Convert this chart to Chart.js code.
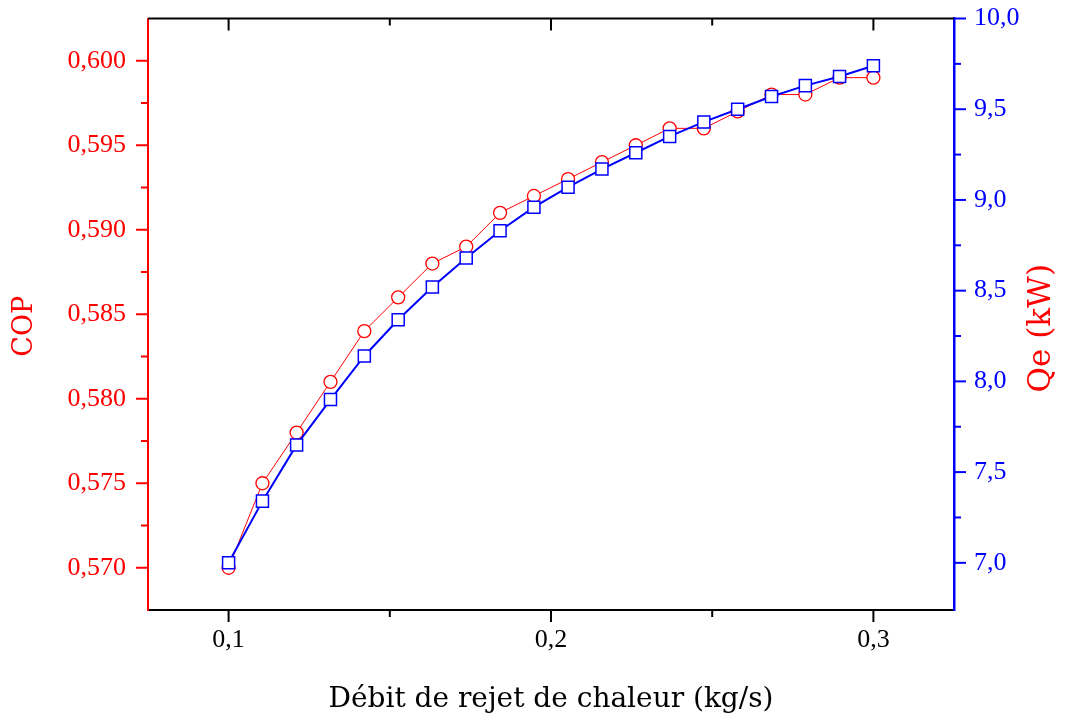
<!DOCTYPE html>
<html>
<head>
<meta charset="utf-8">
<script src="https://cdn.jsdelivr.net/npm/chart.js@4.4.1/dist/chart.umd.min.js"></script>
<style>
  html, body { margin: 0; padding: 0; background: #fff; }
  #wrap { width: 1080px; height: 725px; }
</style>
</head>
<body>
<div id="wrap"><canvas id="chart" width="1080" height="725"></canvas></div>
<script>
// Débit de rejet de chaleur (kg/s)
const debit = [0.1, 0.1105, 0.1211, 0.1316, 0.1421, 0.1526, 0.1632, 0.1737, 0.1842, 0.1947,
               0.2053, 0.2158, 0.2263, 0.2368, 0.2474, 0.2579, 0.2684, 0.2789, 0.2895, 0.3];
const cop = [0.570, 0.575, 0.578, 0.581, 0.584, 0.586, 0.588, 0.589, 0.591, 0.592,
             0.593, 0.594, 0.595, 0.596, 0.596, 0.597, 0.598, 0.598, 0.599, 0.599];
const qe = [7.00, 7.34, 7.65, 7.90, 8.14, 8.34, 8.52, 8.68, 8.83, 8.96,
            9.07, 9.17, 9.26, 9.35, 9.43, 9.50, 9.57, 9.63, 9.68, 9.74];

const debitTicks = [0.1, 0.2, 0.3];
const debitMinor = [0.15, 0.25];
const copTicks = [0.570, 0.575, 0.580, 0.585, 0.590, 0.595, 0.600];
const copMinor = [0.5725, 0.5775, 0.5825, 0.5875, 0.5925, 0.5975];
const qeTicks = [7.0, 7.5, 8.0, 8.5, 9.0, 9.5, 10.0];
const qeMinor = [7.25, 7.75, 8.25, 8.75, 9.25, 9.75];

const RED = '#ff0000';
const BLUE = '#0000ff';
const FONT = "'Liberation Serif', 'DejaVu Serif', serif";
const TITLE_FONT = "'DejaVu Serif', 'Liberation Serif', serif";
const comma = (v, dp) => v.toFixed(dp).replace('.', ',');

// ticks (major/minor), top frame and the two y titles
const frame = {
  id: 'frame',
  afterDraw(chart) {
    const { ctx, chartArea: a, scales } = chart;
    const { x, y, y1 } = scales;
    ctx.save();
    ctx.lineCap = 'butt';
    ctx.strokeStyle = '#000';
    ctx.lineWidth = 2;
    ctx.beginPath();
    ctx.moveTo(a.left, a.top);
    ctx.lineTo(a.right, a.top);
    ctx.stroke();
    const tick = (x0, y0, x1, y1c, color) => {
      ctx.strokeStyle = color;
      ctx.beginPath();
      ctx.moveTo(x0, y0);
      ctx.lineTo(x1, y1c);
      ctx.stroke();
    };
    debitTicks.forEach(v => {
      const px = x.getPixelForValue(v);
      tick(px, a.bottom, px, a.bottom + 12, '#000');
      tick(px, a.top, px, a.top + 12, '#000');
    });
    debitMinor.forEach(v => {
      const px = x.getPixelForValue(v);
      tick(px, a.bottom, px, a.bottom + 7, '#000');
      tick(px, a.top, px, a.top + 7, '#000');
    });
    copTicks.forEach(v => { const py = y.getPixelForValue(v); tick(a.left, py, a.left - 12, py, RED); });
    copMinor.forEach(v => { const py = y.getPixelForValue(v); tick(a.left, py, a.left - 7, py, RED); });
    qeTicks.forEach(v => { const py = y1.getPixelForValue(v); tick(a.right, py, a.right + 12, py, BLUE); });
    qeMinor.forEach(v => { const py = y1.getPixelForValue(v); tick(a.right, py, a.right + 7, py, BLUE); });

    // y titles, both read bottom to top
    ctx.fillStyle = RED;
    ctx.textAlign = 'center';
    ctx.textBaseline = 'middle';
    const midY = (a.top + a.bottom) / 2 + 12;
    ctx.save();
    ctx.font = '27px ' + TITLE_FONT;
    ctx.translate(25, midY);
    ctx.rotate(-Math.PI / 2);
    ctx.fillText('COP', 0, 0);
    ctx.restore();
    ctx.font = '31px ' + TITLE_FONT;
    ctx.translate(1042, midY + 2);
    ctx.rotate(-Math.PI / 2);
    ctx.fillText('Qe (kW)', 0, 0);
    ctx.restore();
  }
};

const noPad = s => { s.paddingTop = 0; s.paddingBottom = 0; };

new Chart(document.getElementById('chart'), {
  type: 'line',
  data: {
    datasets: [
      {
        label: 'Qe',
        data: debit.map((d, i) => ({ x: d, y: qe[i] })),
        yAxisID: 'y1',
        borderColor: BLUE,
        borderWidth: 2,
        pointStyle: 'rect',
        pointRadius: 8.5,
        pointBorderWidth: 1.5,
        pointBackgroundColor: '#fff',
        pointBorderColor: BLUE,
        tension: 0,
      },
      {
        label: 'COP',
        data: debit.map((d, i) => ({ x: d, y: cop[i] })),
        yAxisID: 'y',
        borderColor: RED,
        borderWidth: 1,
        pointStyle: 'circle',
        pointRadius: 6.5,
        pointBorderWidth: 1.3,
        pointBackgroundColor: '#fff',
        pointBorderColor: RED,
        tension: 0,
      },
    ],
  },
  options: {
    responsive: false,
    animation: false,
    devicePixelRatio: 1,
    layout: { padding: { top: 18.5, left: 0, right: 0, bottom: 0 } },
    plugins: { legend: { display: false }, tooltip: { enabled: false } },
    scales: {
      x: {
        type: 'linear',
        min: 0.075,
        max: 0.325,
        afterBuildTicks: s => { s.ticks = debitTicks.map(v => ({ value: v })); },
        afterFit: s => { s.height = 115; s.paddingLeft = 0; s.paddingRight = 0; },
        border: { display: true, color: '#000', width: 2 },
        grid: { display: true, drawOnChartArea: false, drawTicks: true, tickLength: 12, tickColor: 'transparent' },
        ticks: { color: '#000', font: { family: FONT, size: 26 }, padding: 3, callback: v => comma(v, 1), maxRotation: 0 },
        title: { display: true, text: 'Débit de rejet de chaleur (kg/s)', color: '#000', font: { family: TITLE_FONT, size: 28 }, padding: { bottom: 8 } },
      },
      y: {
        position: 'left',
        min: 0.5675,
        max: 0.6025,
        afterBuildTicks: s => { s.ticks = copTicks.map(v => ({ value: v })); },
        afterFit: s => { s.width = 148; noPad(s); },
        border: { display: true, color: RED, width: 2 },
        grid: { display: true, drawOnChartArea: false, drawTicks: true, tickLength: 12, tickColor: 'transparent' },
        ticks: { color: RED, font: { family: FONT, size: 26 }, padding: 10, callback: v => comma(v, 3) },
      },
      y1: {
        position: 'right',
        min: 6.74,
        max: 10.0,
        afterBuildTicks: s => { s.ticks = qeTicks.map(v => ({ value: v })); },
        afterFit: s => { s.width = 126; noPad(s); },
        border: { display: true, color: BLUE, width: 2.5 },
        grid: { display: true, drawOnChartArea: false, drawTicks: true, tickLength: 12, tickColor: 'transparent' },
        ticks: { color: BLUE, font: { family: FONT, size: 26 }, padding: 8, callback: v => comma(v, 1) },
      },
    },
  },
  plugins: [frame],
});
</script>
</body>
</html>
